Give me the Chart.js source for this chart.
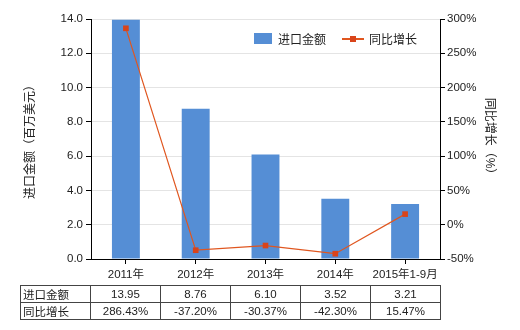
<!DOCTYPE html>
<html>
<head>
<meta charset="utf-8">
<script src="https://cdn.jsdelivr.net/npm/chart.js@4"></script>
<style>
  html, body { margin: 0; padding: 0; background: #fff; }
  #wrap { position: relative; width: 520px; height: 330px; font-family: 'Liberation Sans', 'Noto Sans CJK SC', sans-serif; }
  #c { position: absolute; left: 0; top: 0; }
  #legend { position: absolute; left: 254px; top: 30px; font-size: 12px; color: #222; }
  #legend span { display: inline-block; vertical-align: middle; }
  .box { width: 18px; height: 11px; background: #558ED5; margin-right: 6px; }
  .ln { width: 22px; height: 2px; background: #E0561F; position: relative; margin: 0 5px 0 16px; }
  .ln i { position: absolute; left: 8px; top: -2px; width: 6px; height: 6px; background: #D9441A; }
  table { position: absolute; left: 20px; top: 285px; border-collapse: collapse; font-size: 11.5px; color: #222; }
  td { border: 1px solid #444; width: 69px; height: 16px; padding: 0; text-align: center; }
  td.h { text-align: left; padding-left: 2px; width: 67px; }
</style>
</head>
<body>
<div id="wrap">
  <canvas id="c" width="520" height="330"></canvas>
  <div id="legend"><span class="box"></span><span>进口金额</span><span class="ln"><i></i></span><span>同比增长</span></div>
  <table id="tbl"></table>
</div>
<script>
'use strict';

const categories = ['2011年', '2012年', '2013年', '2014年', '2015年1-9月'];
const importValue = [13.95, 8.76, 6.10, 3.52, 3.21];
const yoyGrowth  = [286.43, -37.20, -30.37, -42.30, 15.47];

const FONT = "'Liberation Sans', 'Noto Sans CJK SC', sans-serif";

/* ── 표 ─────────────────────────────── */
function renderTable() {
  const tbl = document.getElementById('tbl');
  tbl.innerHTML =
    '<tr><td class="h">进口金额</td>' + importValue.map(v => `<td>${v.toFixed(2)}</td>`).join('') + '</tr>' +
    '<tr><td class="h">同比增长</td>' + yoyGrowth.map(v => `<td>${v.toFixed(2)}%</td>`).join('') + '</tr>';
}

/* ── 차트 ───────────────────────────── */
function renderChart() {
  new Chart(document.getElementById('c').getContext('2d'), {
    data: {
      labels: categories,
      datasets: [
        {
          type: 'line', label: '同比增长', data: yoyGrowth, yAxisID: 'y1',
          borderColor: '#E0561F', backgroundColor: '#D9441A', borderWidth: 1.2,
          pointStyle: 'rect', pointRadius: 4, pointBorderWidth: 0, tension: 0, order: 0,
        },
        {
          type: 'bar', label: '进口金额', data: importValue, yAxisID: 'y',
          backgroundColor: '#558ED5', barPercentage: 0.4, categoryPercentage: 1, order: 1,
        },
      ],
    },
    options: {
      responsive: false,
      animation: false,
      layout: { padding: { top: 19, left: 0, right: 0, bottom: 0 } },
      plugins: { legend: { display: false }, tooltip: { enabled: false } },
      scales: {
        x: {
          afterFit: s => { s.height = 71; },
          grid: { offset: false, drawOnChartArea: false, tickLength: 5, tickColor: '#000' },
          border: { color: '#000' },
          ticks: { color: '#222', font: { family: FONT, size: 11.5 }, padding: 4, maxRotation: 0 },
        },
        y: {
          position: 'left', min: 0, max: 14,
          afterFit: s => { s.width = 91; },
          grid: { color: '#e4e4e4', tickLength: 5, tickColor: '#000' },
          border: { color: '#000' },
          ticks: { stepSize: 2, color: '#222', font: { family: FONT, size: 11.5 }, padding: 3, callback: v => v.toFixed(1) },
          title: { display: true, text: '进口金额（百万美元）', color: '#222', font: { family: FONT, size: 12 }, padding: { top: 23, bottom: 0 } },
        },
        y1: {
          position: 'right', min: -50, max: 300,
          afterFit: s => { s.width = 80; },
          grid: { drawOnChartArea: false, tickLength: 5, tickColor: '#000' },
          border: { color: '#000' },
          ticks: { stepSize: 50, color: '#222', font: { family: FONT, size: 11.5 }, padding: 2, callback: v => v + '%' },
          title: { display: true, text: '同比增长（%）', color: '#222', font: { family: FONT, size: 12 }, padding: { top: 23, bottom: 0 } },
        },
      },
    },
  });
}

renderTable();
renderChart();
</script>
</body>
</html>
